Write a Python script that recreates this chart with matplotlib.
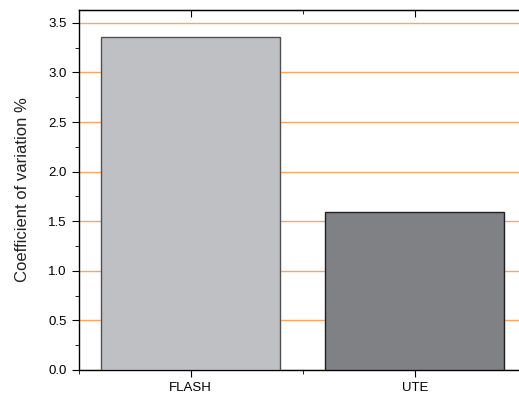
import numpy as np
import matplotlib
matplotlib.use("Agg")
import matplotlib.pyplot as plt
from matplotlib.ticker import MultipleLocator

# data
categories = ["FLASH", "UTE"]
cv_values = [3.36, 1.59]
bar_colors = ["#bfc0c4", "#808185"]
edge_colors = ["#505050", "#202020"]

plt.rcParams['font.family'] = ['Liberation Sans', 'DejaVu Sans']

fig = plt.figure(figsize=(5.19, 3.96), dpi=100)
# axes runs past the right edge, like the cropped original
ax = fig.add_axes([78.7/519, 26/396, 448/519, 360/396])

x = np.arange(1, len(categories) + 1)
ax.bar(x, cv_values, width=0.8, color=bar_colors, edgecolor=edge_colors,
       linewidth=1.0, zorder=3)

# orange grid at major ticks
ax.set_axisbelow(True)
ax.yaxis.grid(True, color="#f7a867", linewidth=1.0, zorder=0)

ax.set_xlim(0.5, 2.5)
ax.set_ylim(0, 3.63)
ax.set_xticks(x)
ax.set_xticklabels(categories)
ax.xaxis.set_minor_locator(MultipleLocator(0.5))
ax.yaxis.set_major_locator(MultipleLocator(0.5))
ax.yaxis.set_minor_locator(MultipleLocator(0.25))
ax.yaxis.set_major_formatter(matplotlib.ticker.FormatStrFormatter('%.1f'))

ax.tick_params(axis='y', which='both', direction='out', left=True, right=False)
ax.tick_params(axis='y', which='major', length=5, labelsize=9.5)
ax.tick_params(axis='y', which='minor', length=3)
ax.tick_params(axis='x', which='both', direction='out', bottom=True, top=False)
ax.tick_params(axis='x', which='major', length=5, labelsize=9.5)
ax.tick_params(axis='x', which='minor', length=3)

# top spine has inward ticks
sec = ax.secondary_xaxis('top')
sec.set_xticks(x)
sec.xaxis.set_minor_locator(MultipleLocator(0.5))
sec.tick_params(axis='x', which='both', direction='in', labeltop=False)
sec.tick_params(axis='x', which='major', length=5)
sec.tick_params(axis='x', which='minor', length=3)

ax.set_ylabel("Coefficient of variation %", fontsize=12, labelpad=13,
              color="#222222")

for s in ax.spines.values():
    s.set_linewidth(1.0)

fig.savefig("out.png", dpi=100)
